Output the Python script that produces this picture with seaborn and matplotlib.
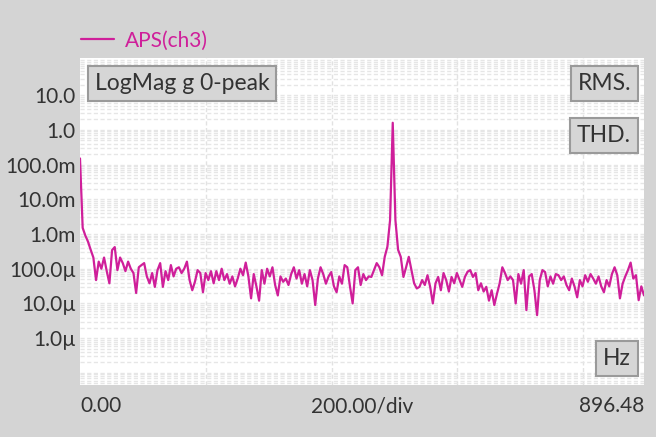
import numpy as np
import matplotlib
matplotlib.use("Agg")
import matplotlib.pyplot as plt
import seaborn as sns
from matplotlib.ticker import LogLocator, FixedLocator, NullFormatter

# spectrum of ch3, one value per bin, in micro units (1e-6)
f_max = 896.48
mag_u = [
    150000, 1500, 900, 600, 350, 210, 47, 160, 100, 210,
    85, 38, 344, 420, 91, 210, 145, 85, 160, 100,
    75, 20, 110, 127, 145, 60, 38, 75, 30, 91,
    145, 30, 85, 47, 127, 60, 100, 110, 75, 100,
    160, 47, 24, 42, 91, 75, 21, 75, 47, 85,
    38, 85, 47, 100, 47, 70, 37, 60, 31, 52,
    100, 65, 150, 60, 14, 70, 31, 12, 91, 37,
    100, 60, 110, 34, 17, 60, 42, 52, 34, 70,
    110, 52, 91, 37, 70, 31, 91, 47, 9, 52,
    110, 70, 37, 60, 80, 31, 21, 60, 37, 127,
    110, 31, 10, 91, 110, 34, 70, 47, 60, 58,
    91, 145, 110, 65, 220, 430, 2500, 1600000, 2500, 350,
    220, 58, 110, 220, 91, 38, 27, 30, 47, 34,
    65, 30, 10, 38, 58, 24, 75, 47, 22, 58,
    38, 75, 47, 30, 58, 82, 91, 58, 75, 24,
    38, 22, 30, 12, 24, 9, 19, 38, 110, 75,
    47, 60, 47, 10, 70, 37, 91, 6.4, 60, 70,
    24, 4.6, 47, 91, 80, 31, 60, 37, 70, 65,
    47, 60, 34, 24, 52, 31, 15, 47, 31, 65,
    42, 70, 52, 37, 60, 31, 21, 47, 31, 70,
    110, 65, 14, 37, 60, 91, 150, 52, 65, 12.4,
    31, 17,
]
freq = np.linspace(0, f_max, len(mag_u))
mag = np.array(mag_u) * 1e-6

ytick_vals = [1e1, 1.0, 1e-1, 1e-2, 1e-3, 1e-4, 1e-5, 1e-6]
ytick_labels = ["10.0", "1.0", "100.0m", "10.0m", "1.0m", "100.0µ", "10.0µ", "1.0µ"]
xtick_vals = [0, f_max / 2, f_max]
xtick_labels = ["0.00", "200.00/div", "896.48"]
xgrid_vals = [200, 400, 600, 800]

trace_color = "#cf1f9a"
text_color = "#333333"
bg = "#d4d4d4"

sns.set_theme(style="white")
plt.rcParams["font.family"] = ["Lato", "DejaVu Sans"]

fig = plt.figure(figsize=(6.56, 4.37), dpi=100, facecolor=bg)
ax = fig.add_axes([80 / 656, 1 - 385 / 437, 564 / 656, 327 / 437])
ax.set_facecolor("white")

sns.lineplot(x=freq, y=mag, ax=ax, color=trace_color, linewidth=1.6, label="APS(ch3)")

ax.set_yscale("log")
ax.set_xlim(0, f_max)
ax.set_ylim(10 ** -7.35, 10 ** 2.07)

ax.yaxis.set_major_locator(FixedLocator(ytick_vals))
ax.set_yticklabels(ytick_labels)
ax.yaxis.set_minor_locator(LogLocator(base=10, subs=np.arange(1, 10), numticks=40))
ax.yaxis.set_minor_formatter(NullFormatter())
ax.set_xticks(xtick_vals)
ax.set_xticklabels(xtick_labels)
ax.xaxis.set_minor_locator(FixedLocator(xgrid_vals))

dash = (0, (3, 1.8))
ax.grid(which="both", axis="y", color="#e6e6e6", linestyle=dash, linewidth=1)
ax.grid(which="minor", axis="x", color="#e2e2e2", linestyle=dash, linewidth=1)
ax.grid(which="major", axis="x", visible=False)

ax.tick_params(which="both", length=0, labelsize=15, labelcolor=text_color)
ax.tick_params(axis="y", pad=3)
ax.tick_params(axis="x", pad=8)
xl = ax.get_xticklabels()
xl[0].set_ha("left")
xl[2].set_ha("right")

for s in ax.spines.values():
    s.set_visible(False)
ax.set_xlabel("")
ax.set_ylabel("")

ax.legend(loc="lower left", bbox_to_anchor=(-0.011, 1.0), frameon=False, fontsize=15,
          handlelength=1.6, handletextpad=0.5, borderpad=0.1, borderaxespad=0.25,
          labelcolor="linecolor")

box = dict(boxstyle="square,pad=0.3", fc="#d6d6d6", ec="#9a9a9a", lw=1.5)
ax.text(0.026, 0.955, "LogMag g 0-peak", transform=ax.transAxes, ha="left", va="top",
        fontsize=16.5, color=text_color, bbox=box)
ax.text(0.977, 0.955, "RMS.", transform=ax.transAxes, ha="right", va="top",
        fontsize=16.5, color=text_color, bbox=box)
ax.text(0.977, 0.795, "THD.", transform=ax.transAxes, ha="right", va="top",
        fontsize=16.5, color=text_color, bbox=box)
ax.text(0.977, 0.05, "Hz", transform=ax.transAxes, ha="right", va="bottom",
        fontsize=16.5, color=text_color, bbox=box)

fig.savefig("out.png", dpi=100, facecolor=bg)
